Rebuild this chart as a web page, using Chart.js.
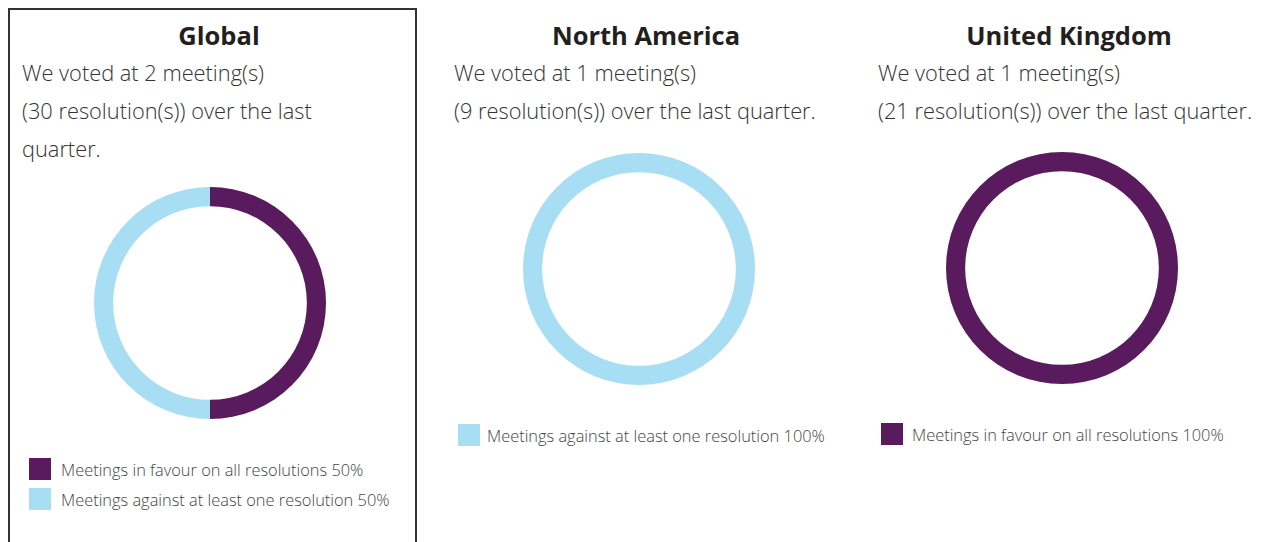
<!DOCTYPE html>
<html>
<head>
<meta charset="utf-8">
<script src="https://cdn.jsdelivr.net/npm/chart.js@4/dist/chart.umd.min.js"></script>
<style>
  html, body { margin: 0; padding: 0; background: #fff; }
  body { width: 1266px; height: 542px; position: relative; overflow: hidden; font-family: "Open Sans", Lato, sans-serif; }
  .box { position: absolute; left: 8px; top: 8px; width: 405px; height: 560px; border: 2px solid #333; box-sizing: content-box; }
  .title { position: absolute; font-weight: 700; font-size: 25.5px; color: #231f20; text-align: center; width: 400px; line-height: 30px; }
  .desc { position: absolute; font-weight: 300; font-size: 21.8px; color: #333; line-height: 38px; white-space: nowrap; }
  .chartwrap { position: absolute; width: 240px; height: 240px; }
  .legend { position: absolute; font-weight: 300; font-size: 16.4px; color: #444; }
  .legend .item { display: flex; align-items: center; height: 22px; margin-bottom: 8px; white-space: nowrap; }
  .legend .sw { width: 22px; height: 22px; flex: none; }
</style>
</head>
<body>
<div class="box"></div>
<div id="root"></div>
<script>
const regions = ["Global", "North America", "United Kingdom"];
const descLines = [
  ["We voted at 2 meeting(s)", "(30 resolution(s)) over the last", "quarter."],
  ["We voted at 1 meeting(s)", "(9 resolution(s)) over the last quarter."],
  ["We voted at 1 meeting(s)", "(21 resolution(s)) over the last quarter."]
];
const categories = ["Meetings in favour on all resolutions", "Meetings against at least one resolution"];
const colors = ["#5a1a5e", "#a8def3"];
const globalValues = [50, 50];
const northAmericaValues = [0, 100];
const unitedKingdomValues = [100, 0];
const seriesValues = [globalValues, northAmericaValues, unitedKingdomValues];

// layout (positions only)
const layout = [
  { titleCx: 219, titleTop: 20, descX: 22, descTop: 54, cx: 210, cy: 303, legX: 29, legY: 458, gap: 10 },
  { titleCx: 646, titleTop: 20, descX: 454, descTop: 54, cx: 639, cy: 269, legX: 458, legY: 424, gap: 7 },
  { titleCx: 1069, titleTop: 20, descX: 878, descTop: 54, cx: 1062, cy: 268, legX: 881, legY: 423, gap: 9 }
];

const root = document.getElementById('root');
regions.forEach((name, i) => {
  const L = layout[i];
  const t = document.createElement('div');
  t.className = 'title';
  t.textContent = name;
  t.style.left = (L.titleCx - 200) + 'px';
  t.style.top = L.titleTop + 'px';
  root.appendChild(t);

  const d = document.createElement('div');
  d.className = 'desc';
  d.style.left = L.descX + 'px';
  d.style.top = L.descTop + 'px';
  d.innerHTML = descLines[i].map(s => '<div>' + s + '</div>').join('');
  root.appendChild(d);

  const w = document.createElement('div');
  w.className = 'chartwrap';
  w.style.left = (L.cx - 120) + 'px';
  w.style.top = (L.cy - 120) + 'px';
  const c = document.createElement('canvas');
  c.width = 240; c.height = 240;
  w.appendChild(c);
  root.appendChild(w);

  new Chart(c, {
    type: 'doughnut',
    data: {
      labels: categories,
      datasets: [{ data: seriesValues[i], backgroundColor: colors, borderWidth: 0, hoverOffset: 0 }]
    },
    options: {
      responsive: false,
      animation: false,
      cutout: '83.5%',
      layout: { padding: 4 },
      plugins: { legend: { display: false }, tooltip: { enabled: false } }
    }
  });

  const lg = document.createElement('div');
  lg.className = 'legend';
  lg.style.left = L.legX + 'px';
  lg.style.top = L.legY + 'px';
  categories.forEach((cat, k) => {
    const v = seriesValues[i][k];
    if (v <= 0) return;
    const it = document.createElement('div');
    it.className = 'item';
    it.innerHTML = '<span class="sw" style="background:' + colors[k] + ';margin-right:' + L.gap + 'px"></span><span>' + cat + ' ' + v + '%</span>';
    lg.appendChild(it);
  });
  root.appendChild(lg);
});
</script>
</body>
</html>
